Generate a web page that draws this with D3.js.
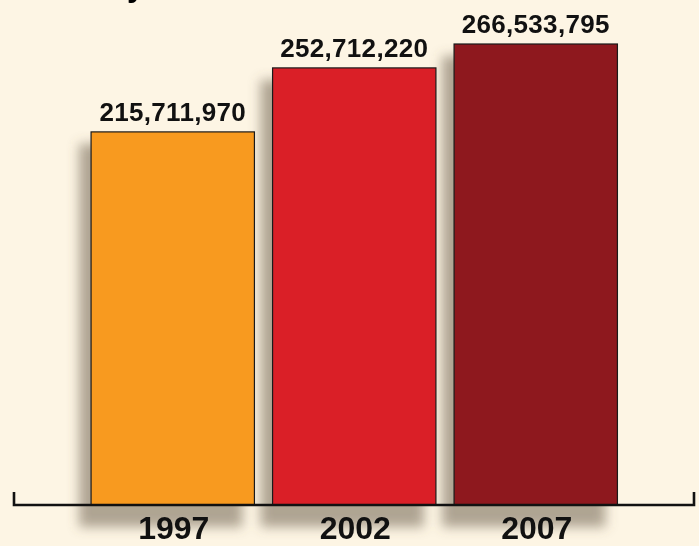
<!DOCTYPE html>
<html>
<head>
<meta charset="utf-8">
<script src="https://d3js.org/d3.v7.min.js"></script>
<style>
  html, body { margin: 0; padding: 0; background: #fdf5e4; }
  svg { display: block; }
</style>
</head>
<body>
<svg id="chart"></svg>
<script>
let width = 699;
let height = 546;
let baseY = 505;

// data
const years = ["1997", "2002", "2007"];
const values = [215711970, 252712220, 266533795];
const barColors = ["#f89a1f", "#da1f27", "#8e181e"];

let svg = d3
  .select("svg#chart")
  .attr("width", width)
  .attr("height", height)
  .style("background", "#fdf5e4")
  .style("font-family", "'Liberation Sans', Arial, Helvetica, sans-serif");

let xScale = d3.scaleBand()
  .domain(years)
  .range([82, 626.5])
  .paddingInner(0.1)
  .paddingOuter(0.05);

let yScale = d3.scaleLinear()
  .domain([0, d3.max(values)])
  .range([baseY, 44]);

let data = years.map((y, i) => ({ year: y, value: values[i], color: barColors[i] }));

// blurred shadow rects drawn under the bars
let defs = svg.append("defs");
defs.append("filter")
  .attr("id", "blur")
  .attr("x", "-40%")
  .attr("y", "-20%")
  .attr("width", "180%")
  .attr("height", "150%")
  .append("feGaussianBlur")
  .attr("stdDeviation", 6);

svg.append("g")
  .attr("filter", "url(#blur)")
  .selectAll("rect")
  .data(data)
  .join("rect")
  .attr("x", (d) => xScale(d.year) - 12)
  .attr("y", (d) => yScale(d.value) + 12)
  .attr("width", xScale.bandwidth())
  .attr("height", (d) => baseY - yScale(d.value) + 10)
  .attr("fill", "#6e6250")
  .attr("opacity", 0.55);

// cut-off title at the very top
svg.append("text")
  .attr("x", 127)
  .attr("y", -4)
  .attr("font-size", 32)
  .attr("font-weight", "bold")
  .attr("fill", "#000")
  .text("y");

svg.append("g")
  .selectAll("rect")
  .data(data)
  .join("rect")
  .attr("x", (d) => xScale(d.year))
  .attr("y", (d) => yScale(d.value))
  .attr("width", xScale.bandwidth())
  .attr("height", (d) => baseY - yScale(d.value))
  .attr("fill", (d) => d.color)
  .attr("stroke", "#1a1a1a")
  .attr("stroke-width", 1.2);

// value labels
svg.append("g")
  .selectAll("text")
  .data(data)
  .join("text")
  .attr("x", (d) => xScale(d.year) + xScale.bandwidth() / 2)
  .attr("y", (d) => yScale(d.value) - 11)
  .attr("text-anchor", "middle")
  .attr("font-size", 26)
  .attr("font-weight", "bold")
  .attr("letter-spacing", 0.3)
  .attr("fill", "#111")
  .text((d) => d3.format(",")(d.value));

// year labels under the bars
let xAxis = d3.axisBottom(xScale).tickSize(0).tickPadding(11);

svg.append("g")
  .attr("transform", `translate(0, ${baseY})`)
  .call(xAxis)
  .call((g) => g.select(".domain").remove())
  .call((g) => g.selectAll("text")
    .attr("font-size", 32)
    .attr("font-weight", "bold")
    .attr("fill", "#111")
    .attr("dy", "0.71em")
    .attr("dx", 1)
    .style("font-family", "'Liberation Sans', Arial, Helvetica, sans-serif"));

// bracket line
svg.append("path")
  .attr("d", `M14,492V${baseY}H694V492`)
  .attr("fill", "none")
  .attr("stroke", "#111")
  .attr("stroke-width", 2.6);
</script>
</body>
</html>
